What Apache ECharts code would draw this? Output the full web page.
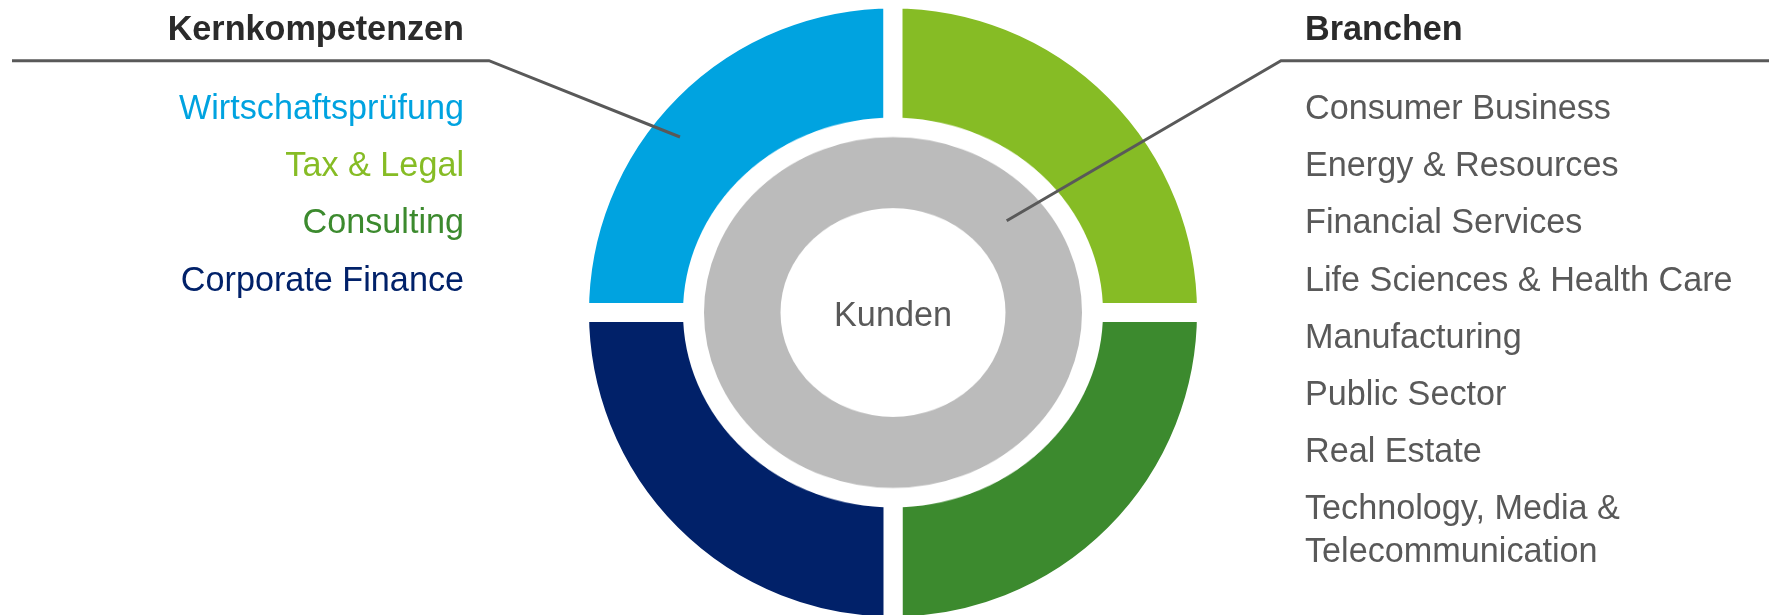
<!DOCTYPE html>
<html>
<head>
<meta charset="utf-8">
<title>Kernkompetenzen / Branchen</title>
<script src="https://cdn.jsdelivr.net/npm/echarts@6/dist/echarts.min.js"></script>
<style>
  html, body { margin: 0; padding: 0; background: #ffffff; }
  #wrap { position: relative; width: 1769px; height: 615px; overflow: hidden; }
  .layer { position: absolute; left: 0; top: 0; width: 1769px; height: 615px; }
  /* inner rings of the reference are slightly flattened ellipses */
  #inner { transform-origin: 893px 312.5px; transform: scaleY(0.928); }
</style>
</head>
<body>
<div id="wrap">
  <div id="outer" class="layer"></div>
  <div id="inner" class="layer"></div>
  <div id="labels" class="layer"></div>
</div>
<script>
// ======================
// DATA
// ======================
const competencies = ['Wirtschaftsprüfung', 'Tax & Legal', 'Consulting', 'Corporate Finance'];
const competencyShare = [1, 1, 1, 1];
const centerRing = ['Kunden'];
const centerShare = [1];
const industries = [
    'Consumer Business',
    'Energy & Resources',
    'Financial Services',
    'Life Sciences & Health Care',
    'Manufacturing',
    'Public Sector',
    'Real Estate',
    'Technology, Media &\nTelecommunication'
];
const headers = ['Kernkompetenzen', 'Branchen'];

// ======================
// STYLE
// ======================
const competencyColors = ['#00a3e0', '#86bc25', '#3c8a2e', '#012169'];
const ringGray = '#bbbbbb';
const textGray = '#595959';
const headDark = '#2b2b2b';
const FONT = '"Liberation Sans", Arial, sans-serif';

const cx = 893, cy = 312.5;
const gap = 19;          // white gap between quadrants
const ringGap = 21;      // white gap between outer ring and gray ring
const rowStart = 109.5, rowStep = 57.2, lineH = 43;

// ======================
// OUTER RING (Kernkompetenzen)
// ======================
const outerChart = echarts.init(document.getElementById('outer'));
outerChart.setOption({
    animation: false,
    series: [{
        type: 'pie',
        center: [cx, cy],
        radius: [170 - gap / 2, 304 + gap / 2],
        startAngle: 180,
        clockwise: true,
        silent: true,
        label: { show: false },
        labelLine: { show: false },
        itemStyle: { borderColor: '#ffffff', borderWidth: gap },
        data: competencies.map((name, i) => ({
            name: name,
            value: competencyShare[i],
            itemStyle: { color: competencyColors[i] }
        }))
    }]
});

// ======================
// INNER RING (Kunden)
// ======================
const innerChart = echarts.init(document.getElementById('inner'));
innerChart.setOption({
    animation: false,
    series: [{
        type: 'pie',
        center: [cx, cy],
        // centred white border: outer half forms the gap to the outer ring
        radius: [112.5 - ringGap / 2, 189 + ringGap / 2],
        silent: true,
        label: { show: false },
        labelLine: { show: false },
        itemStyle: { color: ringGray, borderColor: '#ffffff', borderWidth: ringGap },
        data: centerRing.map((name, i) => ({ name: name, value: centerShare[i] }))
    }]
});

// ======================
// LINES & TEXT
// ======================
function textEl(text, x, y, color, align, bold) {
    const lines = text.split('\n').length;
    return {
        type: 'text',
        silent: true,
        style: {
            text: text,
            x: x,
            y: y + (lines - 1) * lineH / 2,
            fill: color,
            fontSize: 34.2,
            fontWeight: bold ? 'bold' : 'normal',
            fontFamily: FONT,
            lineHeight: lineH,
            align: align,
            verticalAlign: 'middle'
        }
    };
}

const graphics = [
    {
        type: 'polyline',
        silent: true,
        shape: { points: [[12, 60.7], [489, 60.7], [680, 137]] },
        style: { stroke: textGray, lineWidth: 3, fill: null }
    },
    {
        type: 'polyline',
        silent: true,
        shape: { points: [[1769, 60.7], [1281, 60.7], [1006.7, 220.7]] },
        style: { stroke: textGray, lineWidth: 3, fill: null }
    },
    textEl(headers[0], 464, 31, headDark, 'right', true),
    textEl(headers[1], 1305, 31, headDark, 'left', true),
    textEl(centerRing[0], cx, 317, textGray, 'center', false)
];

competencies.forEach((name, i) => {
    graphics.push(textEl(name, 464, rowStart + i * rowStep, competencyColors[i], 'right', false));
});
industries.forEach((name, i) => {
    graphics.push(textEl(name, 1305, rowStart + i * rowStep, textGray, 'left', false));
});

const labelChart = echarts.init(document.getElementById('labels'));
labelChart.setOption({
    animation: false,
    graphic: graphics
});
</script>
</body>
</html>
